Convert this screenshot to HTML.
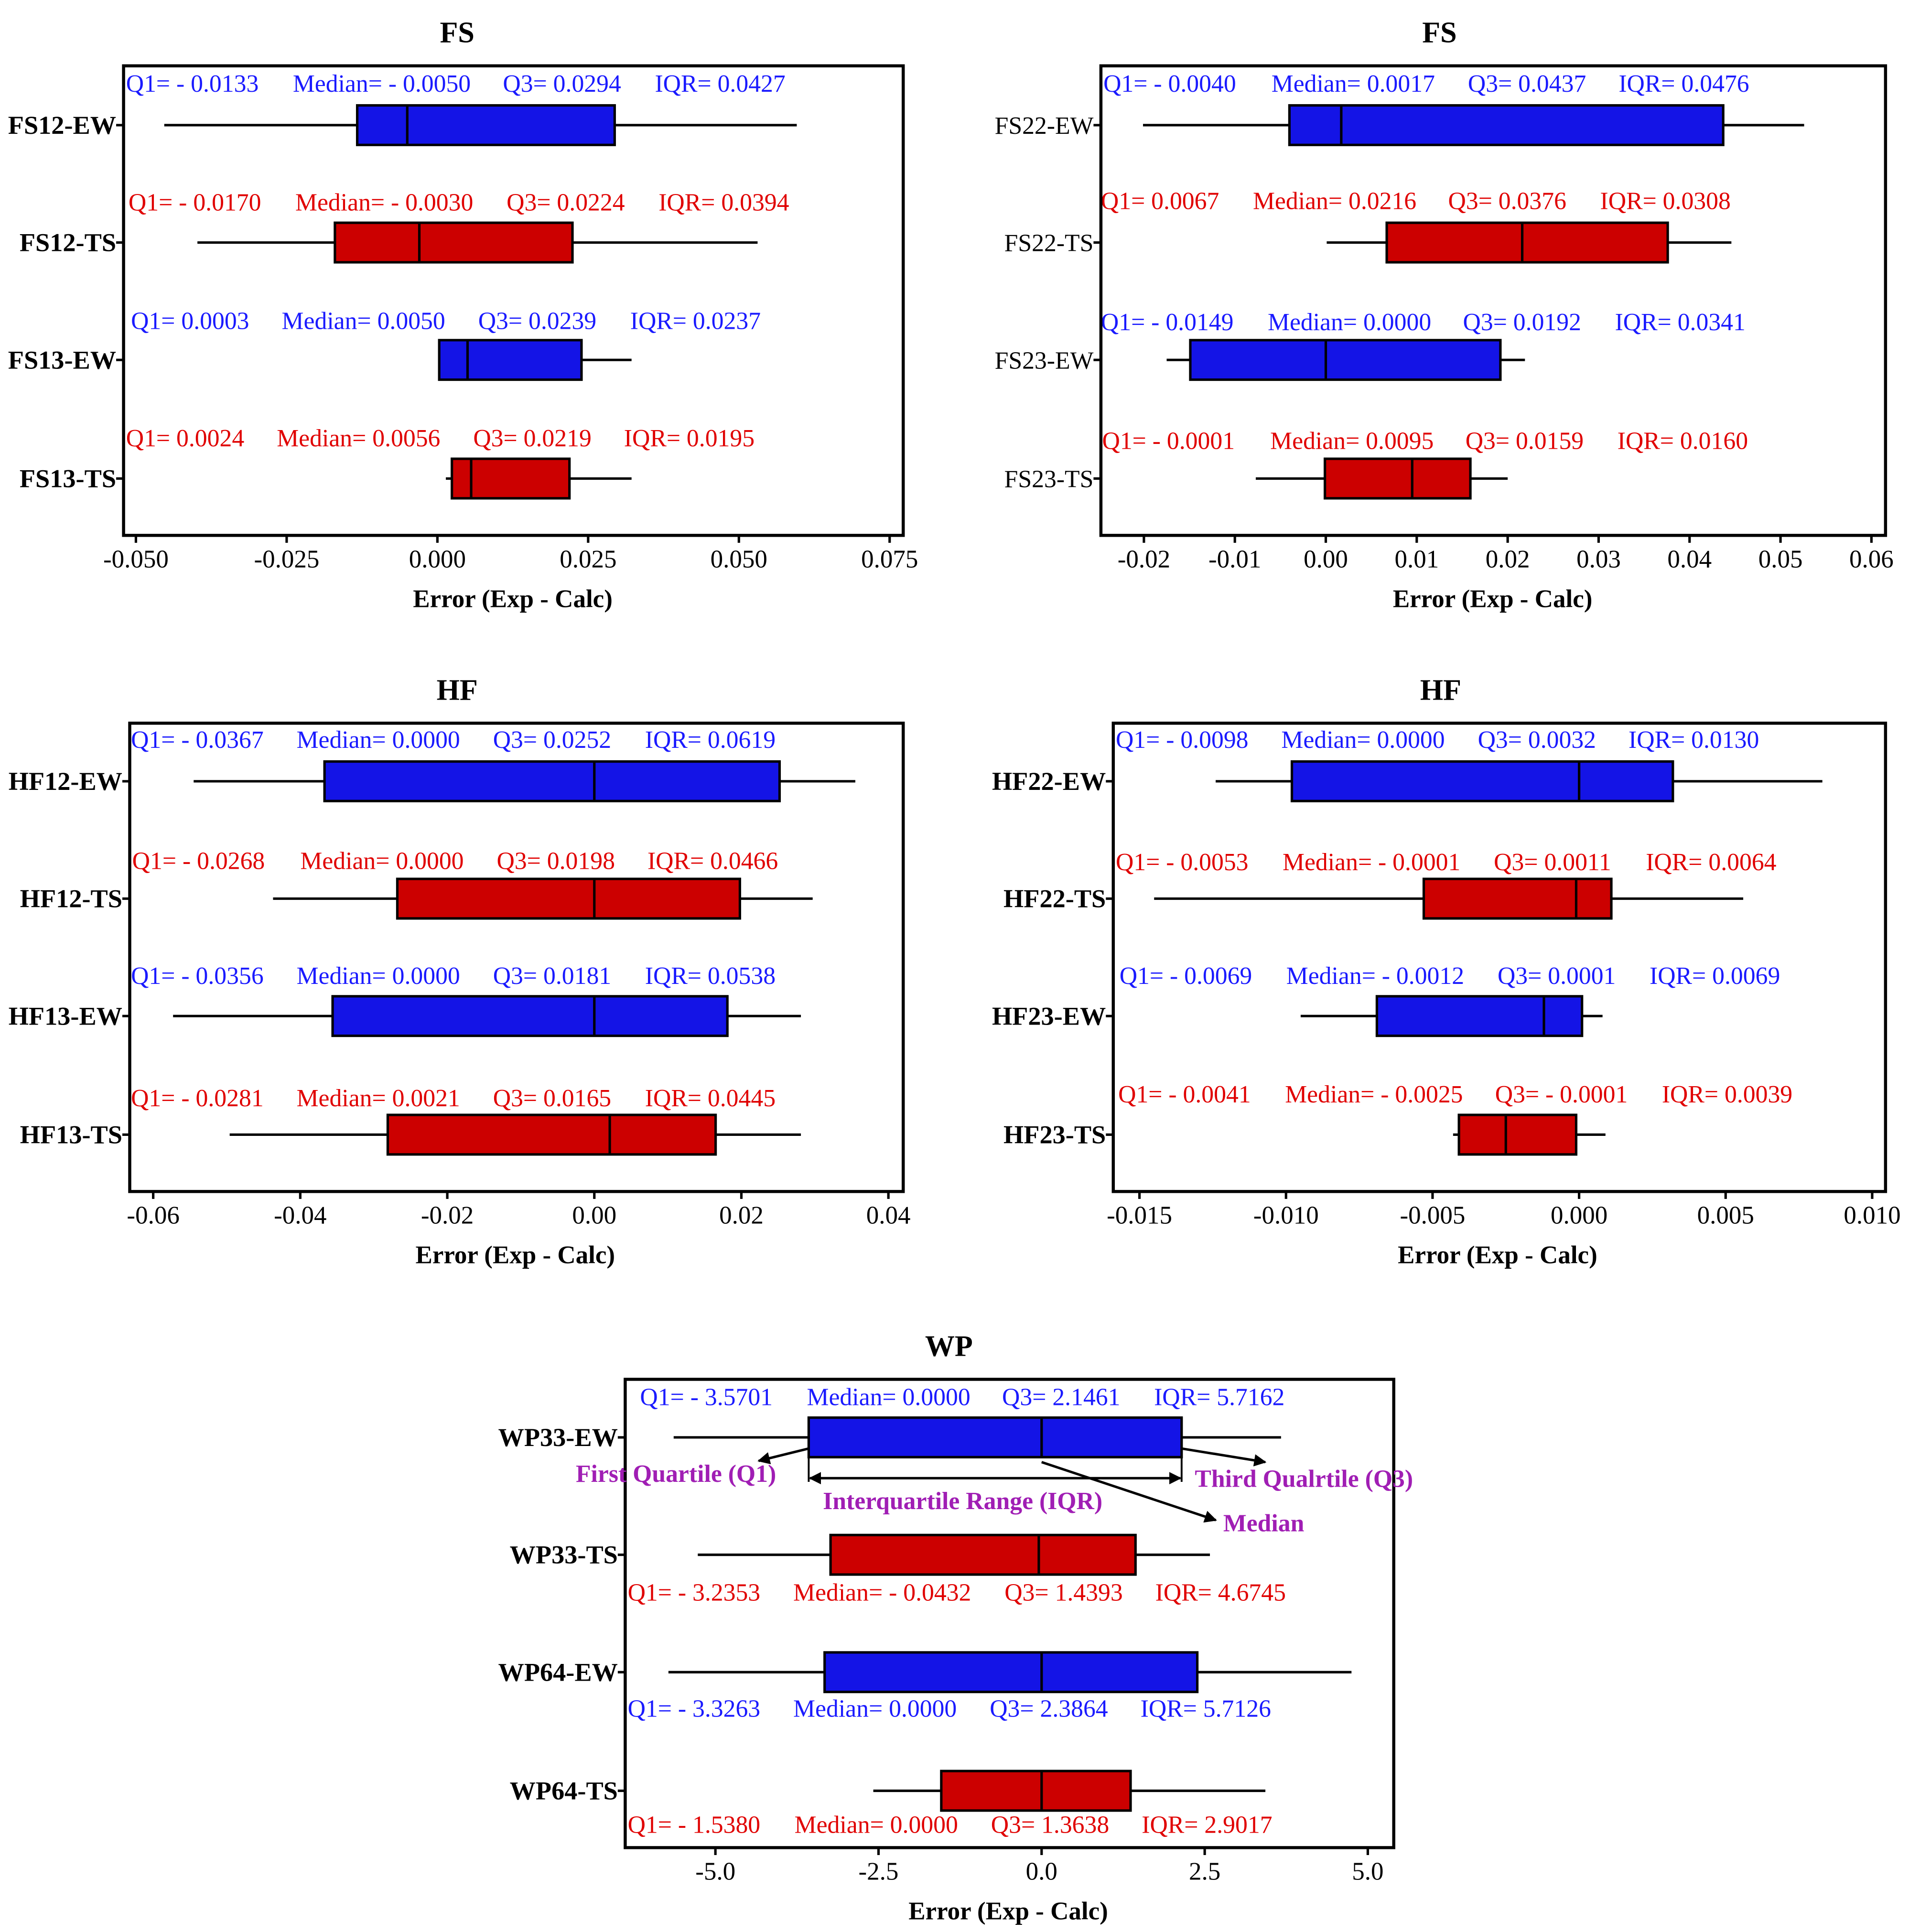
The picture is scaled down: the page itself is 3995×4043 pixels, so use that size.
<!DOCTYPE html>
<html><head><meta charset="utf-8"><style>
html,body{margin:0;padding:0;background:#fff}
svg{display:block}
text{font-family:"Liberation Serif",serif}
</style></head><body>
<svg id="chart" width="3995" height="4043" viewBox="0 0 1545 1563" xmlns="http://www.w3.org/2000/svg"></svg>
<script>
// ---- data ----
const fs1Cats=["FS12-EW","FS12-TS","FS13-EW","FS13-TS"];
const fs1Lo=[-0.0453,-0.0398,0.0003,0.0014];
const fs1Q1=[-0.0133,-0.0170,0.0003,0.0024];
const fs1Med=[-0.0050,-0.0030,0.0050,0.0056];
const fs1Q3=[0.0294,0.0224,0.0239,0.0219];
const fs1Hi=[0.0596,0.0531,0.0322,0.0322];
const fs1IQR=[0.0427,0.0394,0.0237,0.0195];
const fs1Ticks=["-0.050","-0.025","0.000","0.025","0.050","0.075"];

const fs2Cats=["FS22-EW","FS22-TS","FS23-EW","FS23-TS"];
const fs2Lo=[-0.0201,0.0001,-0.0175,-0.0077];
const fs2Q1=[-0.0040,0.0067,-0.0149,-0.0001];
const fs2Med=[0.0017,0.0216,0.0000,0.0095];
const fs2Q3=[0.0437,0.0376,0.0192,0.0159];
const fs2Hi=[0.0526,0.0446,0.0219,0.0200];
const fs2IQR=[0.0476,0.0308,0.0341,0.0160];
const fs2Ticks=["-0.02","-0.01","0.00","0.01","0.02","0.03","0.04","0.05","0.06"];

const hf1Cats=["HF12-EW","HF12-TS","HF13-EW","HF13-TS"];
const hf1Lo=[-0.0545,-0.0437,-0.0573,-0.0496];
const hf1Q1=[-0.0367,-0.0268,-0.0356,-0.0281];
const hf1Med=[0.0000,0.0000,0.0000,0.0021];
const hf1Q3=[0.0252,0.0198,0.0181,0.0165];
const hf1Hi=[0.0355,0.0297,0.0281,0.0281];
const hf1IQR=[0.0619,0.0466,0.0538,0.0445];
const hf1Ticks=["-0.06","-0.04","-0.02","0.00","0.02","0.04"];

const hf2Cats=["HF22-EW","HF22-TS","HF23-EW","HF23-TS"];
const hf2Lo=[-0.0124,-0.0145,-0.0095,-0.0043];
const hf2Q1=[-0.0098,-0.0053,-0.0069,-0.0041];
const hf2Med=[0.0000,-0.0001,-0.0012,-0.0025];
const hf2Q3=[0.0032,0.0011,0.0001,-0.0001];
const hf2Hi=[0.0083,0.0056,0.0008,0.0009];
const hf2IQR=[0.0130,0.0064,0.0069,0.0039];
const hf2Ticks=["-0.015","-0.010","-0.005","0.000","0.005","0.010"];

const wpCats=["WP33-EW","WP33-TS","WP64-EW","WP64-TS"];
const wpLo=[-5.64,-5.27,-5.72,-2.58];
const wpQ1=[-3.5701,-3.2353,-3.3263,-1.5380];
const wpMed=[0.0000,-0.0432,0.0000,0.0000];
const wpQ3=[2.1461,1.4393,2.3864,1.3638];
const wpHi=[3.67,2.58,4.75,3.43];
const wpIQR=[5.7162,4.6745,5.7126,2.9017];
const wpTicks=["-5.0","-2.5","0.0","2.5","5.0"];

// ---- drawing ----
const NS="http://www.w3.org/2000/svg";
const svg=document.getElementById('chart');
function mk(tag,attrs,parent){const e=document.createElementNS(NS,tag);for(const k in attrs)e.setAttribute(k,attrs[k]);(parent||svg).appendChild(e);return e;}
function fmt(v){return v<0?"- "+Math.abs(v).toFixed(4):v.toFixed(4);}
const BLUE="#1414e6",RED="#cc0000",TB="#1a1aff",TR="#e00000";

function panel(p){
  const g=mk('g',{});
  
  
  const x=v=>p.zero+v/p.step*p.px;
  const rows=[p.y0,p.y0+95,p.y0+190,p.y0+286];
  const t=mk('text',{x:p.titleX,y:p.fy0-19,'text-anchor':'middle','font-size':24,'font-weight':'bold'},g);
  t.textContent=p.title;
  
  
  for(let i=0;i<4;i++){
    const y=rows[i],col=i%2==0?BLUE:RED,tc=i%2==0?TB:TR;
    const bg=mk('g',{},g);
    
    
    mk('line',{x1:x(p.lo[i]),x2:x(p.hi[i]),y1:y,y2:y,stroke:'#000','stroke-width':2},bg);
    mk('rect',{x:x(p.q1[i]),y:y-16,width:x(p.q3[i])-x(p.q1[i]),height:32,fill:col,stroke:'#000','stroke-width':2},bg);
    mk('line',{x1:x(p.med[i]),x2:x(p.med[i]),y1:y-16,y2:y+16,stroke:'#000','stroke-width':2},bg);
    mk('line',{x1:p.fx0-6,x2:p.fx0,y1:y,y2:y,stroke:'#000','stroke-width':2},g);
    const yl=mk('text',{x:p.fx0-6,y:y+7,'text-anchor':'end','font-size':p.bold?21:20,'font-weight':p.bold?'bold':'normal'},g);
    yl.textContent=p.cats[i];
    
    
    const strs=["Q1= "+fmt(p.q1[i]),"Median= "+fmt(p.med[i]),"Q3= "+fmt(p.q3[i]),"IQR= "+p.iqr[i].toFixed(4)];
    for(let j=0;j<4;j++){
      const s=mk('text',{x:p.lx[i][j],y:p.ly[i]+6,'font-size':20,fill:tc},g);
      s.textContent=strs[j];
      
      
    }
  }
  mk('rect',{x:p.fx0,y:p.fy0,width:p.fx1-p.fx0,height:p.fy1-p.fy0,fill:'none',stroke:'#000','stroke-width':2.5},g);
  p.ticks.forEach((lab,k)=>{
    const tx=x(parseFloat(lab));
    mk('line',{x1:tx,x2:tx,y1:p.fy1,y2:p.fy1+6,stroke:'#000','stroke-width':2},g);
    const tl=mk('text',{x:tx,y:p.fy1+26,'text-anchor':'middle','font-size':20.5},g);
    tl.textContent=lab;
    
    
  });
  const at=mk('text',{x:p.axX,y:p.fy1+58,'text-anchor':'middle','font-size':20.5,'font-weight':'bold'},g);
  at.textContent="Error (Exp - Calc)";
  
  
}

panel({name:'fs-left-panel',title:'FS',titleX:370,cats:fs1Cats,lo:fs1Lo,q1:fs1Q1,med:fs1Med,q3:fs1Q3,hi:fs1Hi,iqr:fs1IQR,ticks:fs1Ticks,
  zero:354,step:0.025,px:122,fx0:100,fx1:731,fy0:53,fy1:433,y0:101,bold:true,axX:415,
  ly:[68,164,260,355],lx:[[102,237,407,530],[104,239,410,533],[106,228,387,510],[102,224,383,505]]});
panel({name:'fs-right-panel',title:'FS',titleX:1165,cats:fs2Cats,lo:fs2Lo,q1:fs2Q1,med:fs2Med,q3:fs2Q3,hi:fs2Hi,iqr:fs2IQR,ticks:fs2Ticks,
  zero:1073,step:0.01,px:73.6,fx0:891,fx1:1526,fy0:53,fy1:433,y0:101,bold:false,axX:1208,
  ly:[68,163,261,357],lx:[[893,1029,1188,1310],[891,1014,1172,1295],[891,1026,1184,1307],[892,1028,1186,1309]]});
panel({name:'hf-left-panel',title:'HF',titleX:370,cats:hf1Cats,lo:hf1Lo,q1:hf1Q1,med:hf1Med,q3:hf1Q3,hi:hf1Hi,iqr:hf1IQR,ticks:hf1Ticks,
  zero:481,step:0.02,px:119,fx0:105,fx1:731,fy0:585,fy1:964,y0:632,bold:true,axX:417,
  ly:[599,697,790,889],lx:[[106,240,399,522],[107,243,402,524],[106,240,399,522],[106,240,399,522]]});
panel({name:'hf-right-panel',title:'HF',titleX:1166,cats:hf2Cats,lo:hf2Lo,q1:hf2Q1,med:hf2Med,q3:hf2Q3,hi:hf2Hi,iqr:hf2IQR,ticks:hf2Ticks,
  zero:1278,step:0.005,px:118.6,fx0:901,fx1:1526,fy0:585,fy1:964,y0:632,bold:true,axX:1212,
  ly:[599,698,790,886],lx:[[903,1037,1196,1318],[903,1038,1209,1332],[906,1041,1212,1335],[905,1040,1210,1345]]});
panel({name:'wp-panel',title:'WP',titleX:768,cats:wpCats,lo:wpLo,q1:wpQ1,med:wpMed,q3:wpQ3,hi:wpHi,iqr:wpIQR,ticks:wpTicks,
  zero:843,step:2.5,px:132,fx0:506,fx1:1128,fy0:1116,fy1:1495,y0:1163,bold:true,axX:816,
  ly:[1131,1289,1383,1477],lx:[[518,653,811,934],[508,642,813,935],[508,642,801,923],[508,643,802,924]]});

// annotations on WP
const wx=v=>843+v/2.5*132;
const ann=mk('g',{});


const defs=mk('defs',{},svg);
const m=mk('marker',{id:'ah',viewBox:'0 0 10 10',refX:9,refY:5,markerWidth:5,markerHeight:5,orient:'auto-start-reverse'},defs);
mk('path',{d:'M0,0 L10,5 L0,10 z',fill:'#000'},m);
const q1x=wx(wpQ1[0]),q3x=wx(wpQ3[0]),mdx=wx(wpMed[0]);
mk('line',{x1:q1x,y1:1172,x2:614,y2:1182,stroke:'#000','stroke-width':2,'marker-end':'url(#ah)'},ann);
mk('line',{x1:q3x,y1:1172,x2:1024,y2:1183,stroke:'#000','stroke-width':2,'marker-end':'url(#ah)'},ann);
mk('line',{x1:q1x,y1:1179,x2:q1x,y2:1199,stroke:'#000','stroke-width':1.5},ann);
mk('line',{x1:q3x,y1:1179,x2:q3x,y2:1199,stroke:'#000','stroke-width':1.5},ann);
mk('line',{x1:q1x+1,y1:1196,x2:q3x-1,y2:1196,stroke:'#000','stroke-width':2,'marker-start':'url(#ah)','marker-end':'url(#ah)'},ann);
mk('line',{x1:mdx,y1:1183,x2:984,y2:1230,stroke:'#000','stroke-width':2,'marker-end':'url(#ah)'},ann);
[["First Quartile (Q1)",466,1199],["Third Qualrtile (Q3)",967,1203],["Interquartile Range (IQR)",666,1221],["Median",990,1239]].forEach(a=>{
  const t=mk('text',{x:a[1],y:a[2],'font-size':20,'font-weight':'bold',fill:'#a01eb4'},ann);
  t.textContent=a[0];
  
  
});
</script>
</body></html>
